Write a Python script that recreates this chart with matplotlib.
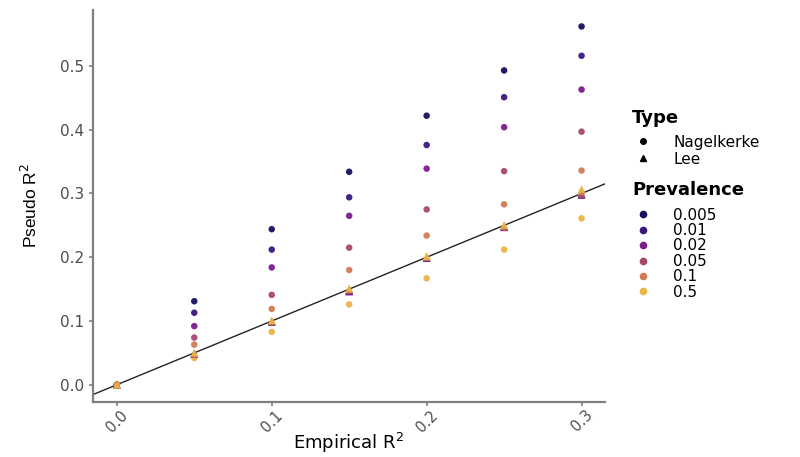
import matplotlib
matplotlib.use('Agg')
import matplotlib.pyplot as plt
from matplotlib.lines import Line2D

empirical = [0.0, 0.05, 0.10, 0.15, 0.20, 0.25, 0.30]
prevalence = ['0.005', '0.01', '0.02', '0.05', '0.1', '0.5']

nk_p0005 = [0.0, 0.131, 0.244, 0.334, 0.422, 0.493, 0.562]
nk_p001 = [0.0, 0.113, 0.212, 0.294, 0.376, 0.451, 0.516]
nk_p002 = [0.0, 0.092, 0.184, 0.265, 0.339, 0.404, 0.463]
nk_p005 = [0.0, 0.074, 0.141, 0.215, 0.275, 0.335, 0.397]
nk_p01 = [0.0, 0.063, 0.119, 0.180, 0.234, 0.283, 0.336]
nk_p05 = [0.0, 0.042, 0.083, 0.126, 0.167, 0.212, 0.261]

lee_p0005 = [0.0, 0.049, 0.099, 0.148, 0.199, 0.248, 0.299]
lee_p001 = [0.0, 0.049, 0.099, 0.147, 0.199, 0.248, 0.298]
lee_p002 = [0.0, 0.048, 0.099, 0.146, 0.199, 0.247, 0.298]
lee_p005 = [0.0, 0.048, 0.099, 0.148, 0.200, 0.247, 0.299]
lee_p01 = [0.0, 0.049, 0.100, 0.150, 0.200, 0.249, 0.303]
lee_p05 = [0.0, 0.050, 0.101, 0.151, 0.202, 0.251, 0.307]

nagelkerke = [nk_p0005, nk_p001, nk_p002, nk_p005, nk_p01, nk_p05]
lee = [lee_p0005, lee_p001, lee_p002, lee_p005, lee_p01, lee_p05]

colors = ['#15105e', '#3b167e', '#7b1c8c', '#a6476c', '#d27a58', '#eab446']

plt.rcParams['font.family'] = ['DejaVu Sans']

fig = plt.figure(figsize=(8.0, 4.57), dpi=100)
ax = fig.add_axes([0.116, 0.1204, 0.640, 0.858])

# identity line
ax.axline((0, 0), slope=1, color='#222222', lw=1.0, zorder=2)

for vals, c in zip(nagelkerke, colors):
    ax.scatter(empirical, vals, s=22, color=c, marker='o', edgecolors='none', alpha=0.95, zorder=3)
for vals, c in zip(lee, colors):
    ax.scatter(empirical, vals, s=30, color=c, marker='^', edgecolors='none', alpha=0.95, zorder=3)

ax.set_xlim(-0.0155, 0.315)
ax.set_ylim(-0.027, 0.588)
ax.set_xticks([0.0, 0.1, 0.2, 0.3])
ax.set_xticklabels(['0.0', '0.1', '0.2', '0.3'], rotation=45, ha='center')
ax.set_yticks([0.0, 0.1, 0.2, 0.3, 0.4, 0.5])
ax.set_yticklabels(['0.0', '0.1', '0.2', '0.3', '0.4', '0.5'])

for s in ['top', 'right']:
    ax.spines[s].set_visible(False)
for s in ['left', 'bottom']:
    ax.spines[s].set_color('#808080')
    ax.spines[s].set_linewidth(1.6)
ax.tick_params(axis='both', colors='#808080', length=3, width=1.2, labelsize=11, labelcolor='#4d4d4d')
ax.tick_params(axis='x', pad=1, labelsize=10.5)

ax.set_xlabel('Empirical R$^2$', fontsize=13, color='black', labelpad=-3)
ax.set_ylabel('Pseudo R$^2$', fontsize=12.5, color='black', labelpad=14,
              family=['Liberation Sans Narrow', 'Liberation Sans', 'DejaVu Sans'])

fig.text(0.79, 1 - 118 / 457, 'Type', fontsize=13, fontweight='bold', va='center', ha='left')
fig.text(0.79, 1 - 190 / 457, 'Prevalence', fontsize=13, fontweight='bold', va='center', ha='left')

type_handles = [Line2D([], [], ls='none', marker='o', color='black', markersize=4),
                Line2D([], [], ls='none', marker='^', color='black', markersize=4)]
leg1 = fig.legend(type_handles, ['Nagelkerke', 'Lee'], loc='upper left',
                  bbox_to_anchor=(0.7925, 1 - 134.5 / 457), frameon=False, fontsize=11,
                  labelspacing=0.14, handletextpad=1.37, handlelength=1.2,
                  borderpad=0, borderaxespad=0)

prev_handles = [Line2D([], [], ls='none', marker='o', color=c, markersize=4.5) for c in colors]
leg2 = fig.legend(prev_handles, prevalence, loc='upper left',
                  bbox_to_anchor=(0.7925, 1 - 207.5 / 457), frameon=False, fontsize=11,
                  labelspacing=0.03, handletextpad=1.37, handlelength=1.2,
                  borderpad=0, borderaxespad=0)

fig.savefig('out.png', dpi=100)
